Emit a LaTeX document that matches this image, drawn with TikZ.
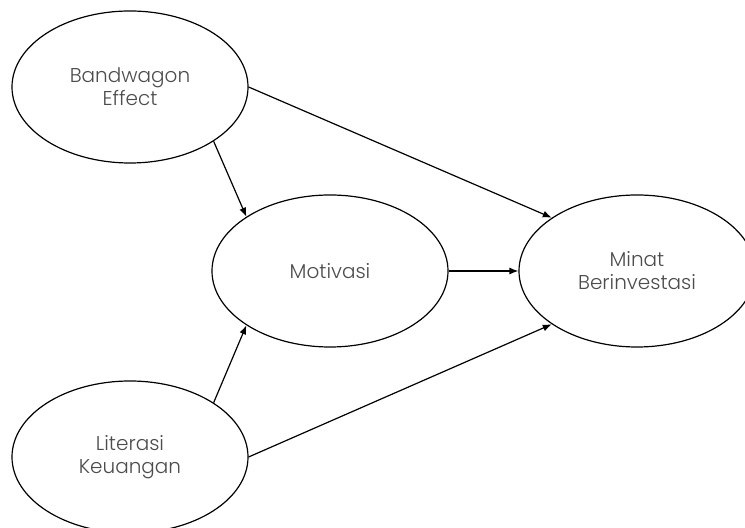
\documentclass[tikz,border=0pt]{standalone}
\usepackage{fontspec}
\setmainfont{Poppins}[UprightFont=* Light]
\usetikzlibrary{shapes.geometric,arrows.meta}
\tikzset{
  var/.style={ellipse,draw,line width=0.6pt,minimum width=118pt,minimum height=76pt,
    inner sep=0pt,align=center,text=black!70,font=\fontsize{10}{11.5}\selectfont},
  link/.style={-{Latex[length=4.5pt,width=3.5pt]},line width=0.6pt}
}
\begin{document}
\begin{tikzpicture}[x=0.5pt,y=-0.5pt]
    \useasboundingbox (0,0) rectangle (745,528);
    \foreach \n/\x/\y/\t in {bw/130/87/{Bandwagon\\Effect},mot/330/271/{Motivasi},
        min/637/271/{Minat\\Berinvestasi},lit/130/457/{Literasi\\Keuangan}}{
      \node[var] (\n) at (\x,\y) {\t};
    }
    \foreach \a/\b in {bw.-33/mot.147,bw.east/min.148,mot.east/min.west,
        lit.33/mot.-147,lit.east/min.-148}{
      \draw[link] (\a) -- (\b);
    }
  \end{tikzpicture}
\end{document}
